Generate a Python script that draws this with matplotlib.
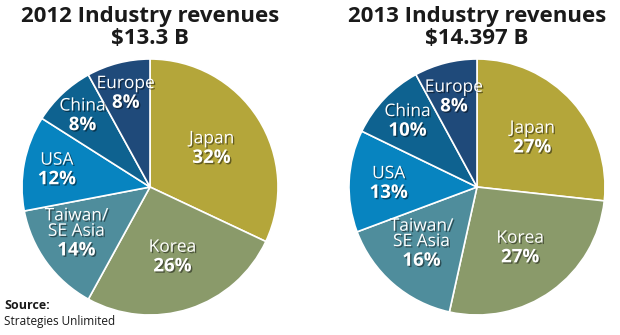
import numpy as np
import matplotlib
matplotlib.use("Agg")
import matplotlib.pyplot as plt
import matplotlib.patheffects as pe

plt.rcParams["font.family"] = ["Open Sans", "DejaVu Sans"]

regions = ["Japan", "Korea", "Taiwan/\nSE Asia", "USA", "China", "Europe"]
share_2012 = [32, 26, 14, 12, 8, 8]
share_2013 = [27, 27, 16, 13, 10, 8]
titles = ["2012 Industry revenues\n$13.3 B", "2013 Industry revenues\n$14.397 B"]

colors = ["#b4a63a", "#8a9a6a", "#4f8d9c", "#0784c0", "#0e6290", "#1f4a7a"]
# radial position of each label, as a fraction of the radius
label_r_2012 = [0.57, 0.57, 0.71, 0.74, 0.77, 0.76]
label_r_2013 = [0.58, 0.58, 0.66, 0.69, 0.75, 0.73]

W, H = 620, 335
R = 128
centers = [(150, 187), (477, 187)]

fig = plt.figure(figsize=(W / 100, H / 100), dpi=100)
shadow = [pe.withSimplePatchShadow(offset=(1, -1), shadow_rgbFace="black", alpha=0.45)]


def draw_pie(cx, cy, values, label_r, title):
    ax = fig.add_axes([(cx - R) / W, (H - cy - R) / H, 2 * R / W, 2 * R / H])
    wedges, _ = ax.pie(values, colors=colors, startangle=90, counterclock=False,
                       radius=1.0, wedgeprops=dict(edgecolor="white", linewidth=1.2))
    ax.set_xlim(-1, 1)
    ax.set_ylim(-1, 1)
    ax.set_aspect("equal")
    ax.axis("off")
    for w, name, v, r in zip(wedges, regions, values, label_r):
        mid = np.deg2rad((w.theta1 + w.theta2) / 2)
        x, y = r * np.cos(mid), r * np.sin(mid)
        ax.text(x, y + 0.005, name, ha="center", va="bottom", color="white",
                fontsize=12.5, linespacing=0.95, path_effects=shadow)
        ax.text(x, y, f"{v}%", ha="center", va="top", color="white",
                fontsize=13.5, fontweight="bold", path_effects=shadow)
    fig.text(cx / W, 1 - 6 / H, title, ha="center", va="top", fontsize=16,
             fontweight="bold", color="#1a1a1a", linespacing=1.05)


draw_pie(*centers[0], share_2012, label_r_2012, titles[0])
draw_pie(*centers[1], share_2013, label_r_2013, titles[1])

fig.text(4 / W, 1 - 299 / H, "Source:", ha="left", va="top", fontsize=9,
         fontweight="bold", color="#1a1a1a")
fig.text(4 / W, 1 - 315 / H, "Strategies Unlimited", ha="left", va="top",
         fontsize=8.5, color="#1a1a1a")

fig.savefig("out.png", dpi=100)
